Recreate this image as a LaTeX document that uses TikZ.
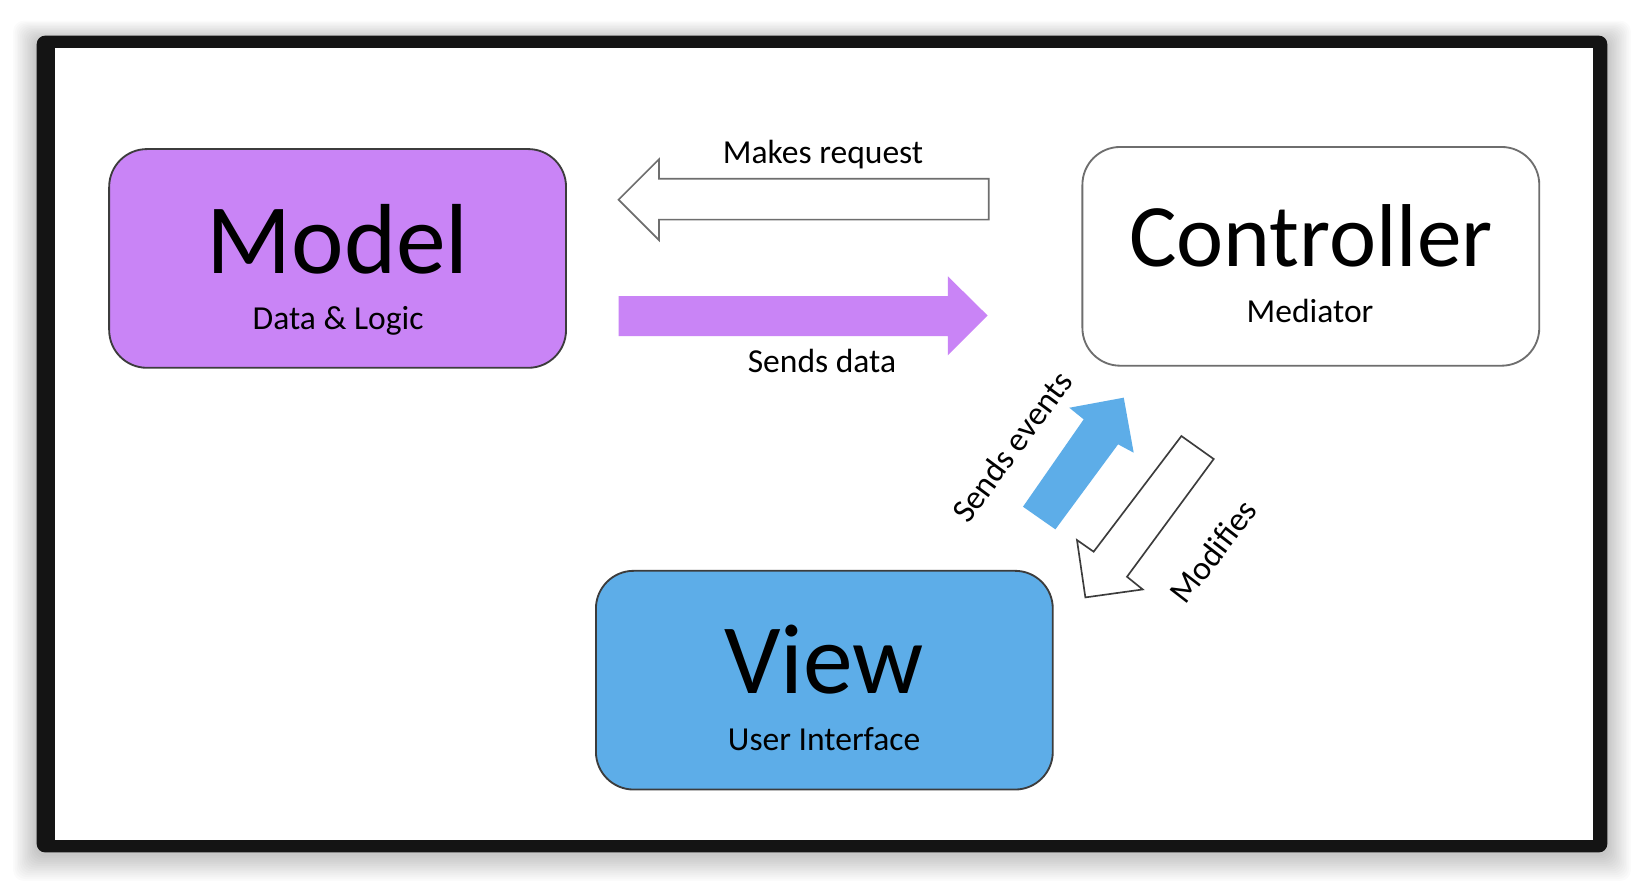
\documentclass[tikz,border=0pt]{standalone}
\usepackage{fontspec}
\setmainfont{Carlito}
\usepackage{xcolor}
\usepackage{tikz}
\definecolor{modelpurple}{RGB}{201,132,246}
\definecolor{viewblue}{RGB}{93,173,232}
\definecolor{framegray}{RGB}{20,20,20}
\definecolor{edgegray}{RGB}{60,60,60}
\definecolor{arrowgray}{RGB}{110,110,110}

\begin{document}
\begin{tikzpicture}[x=0.01cm,y=-0.01cm]
\tikzstyle{box}=[draw=edgegray,line width=0.5pt,rounded corners=0.36cm,minimum width=4.355cm,minimum height=2.085cm,inner sep=0pt];
\tikzstyle{title}=[anchor=base,font=\fontsize{27}{27}\selectfont];
\tikzstyle{sub}=[anchor=base,font=\fontsize{9.1}{9.1}\selectfont];
\tikzstyle{lbl}=[font=\fontsize{9.1}{9.1}\selectfont];
\tikzstyle{hollow}=[draw=arrowgray,fill=white,line width=0.45pt,line join=miter];

\useasboundingbox (0,0) rectangle (1568,849);
\fill[white] (0,0) rectangle (1568,849);
\foreach \i in {1,...,14}
  \fill[black,opacity=0.016,rounded corners=0.1cm] (35-1.6*\i,38-1.3*\i) rectangle (1533+1.6*\i,815+1.8*\i);
\fill[framegray,rounded corners=0.08cm] (35,34) rectangle (1533,813);
\fill[white] (52.5,46) rectangle (1519,801);

\node[box,fill=modelpurple] (model) at (322,246.5) {};
\node[box,fill=white,draw=arrowgray] (controller) at (1250.25,244.5) {};
\node[box,fill=viewblue] (view) at (786.25,648.75) {};

\node[title] (modeltxt) at (322,260.5) {Model};
\node[sub] (modelsub) at (322.5,314) {Data \& Logic};
\node[title,font=\fontsize{24.2}{24.2}\selectfont] (ctrltxt) at (1250.5,254) {Controller};
\node[sub] (ctrlsub) at (1249.5,307.5) {Mediator};
\node[title] (viewtxt) at (786,661) {View};
\node[sub] (viewsub) at (786,716) {User Interface};

\draw[hollow] (590,190.5) -- (628.5,152) -- (628.5,170.5) -- (943,170.5) -- (943,209.5) -- (628.5,209.5) -- (628.5,229) -- cycle;
\node[lbl,anchor=base] (reqtxt) at (785,155.6) {Makes request};
\fill[modelpurple] (590,282.5) -- (904,282.5) -- (904,263.5) -- (942,301) -- (904,339) -- (904,320.5) -- (590,320.5) -- cycle;
\node[lbl,anchor=base] (datatxt) at (784,355.5) {Sends data};

\fill[viewblue] (975.7,483.3) -- (1033.6,400) -- (1019.9,388.9) -- (1071.8,379.3) -- (1081.3,431.8) -- (1066.4,423.8) -- (1006.6,504.9) -- cycle;
\node[lbl,rotate=53.5] (evtxt) at (965,426) {Sends events};
\draw[hollow,draw=edgegray] (1126.8,415.9) -- (1157.6,437.8) -- (1074.9,550.1) -- (1089.9,562.2) -- (1035.2,569.8) -- (1027.2,515.1) -- (1043.1,526.2) -- cycle;
\node[lbl,rotate=52.5] (modtxt) at (1157,526) {Modifies};
\end{tikzpicture}
\end{document}
